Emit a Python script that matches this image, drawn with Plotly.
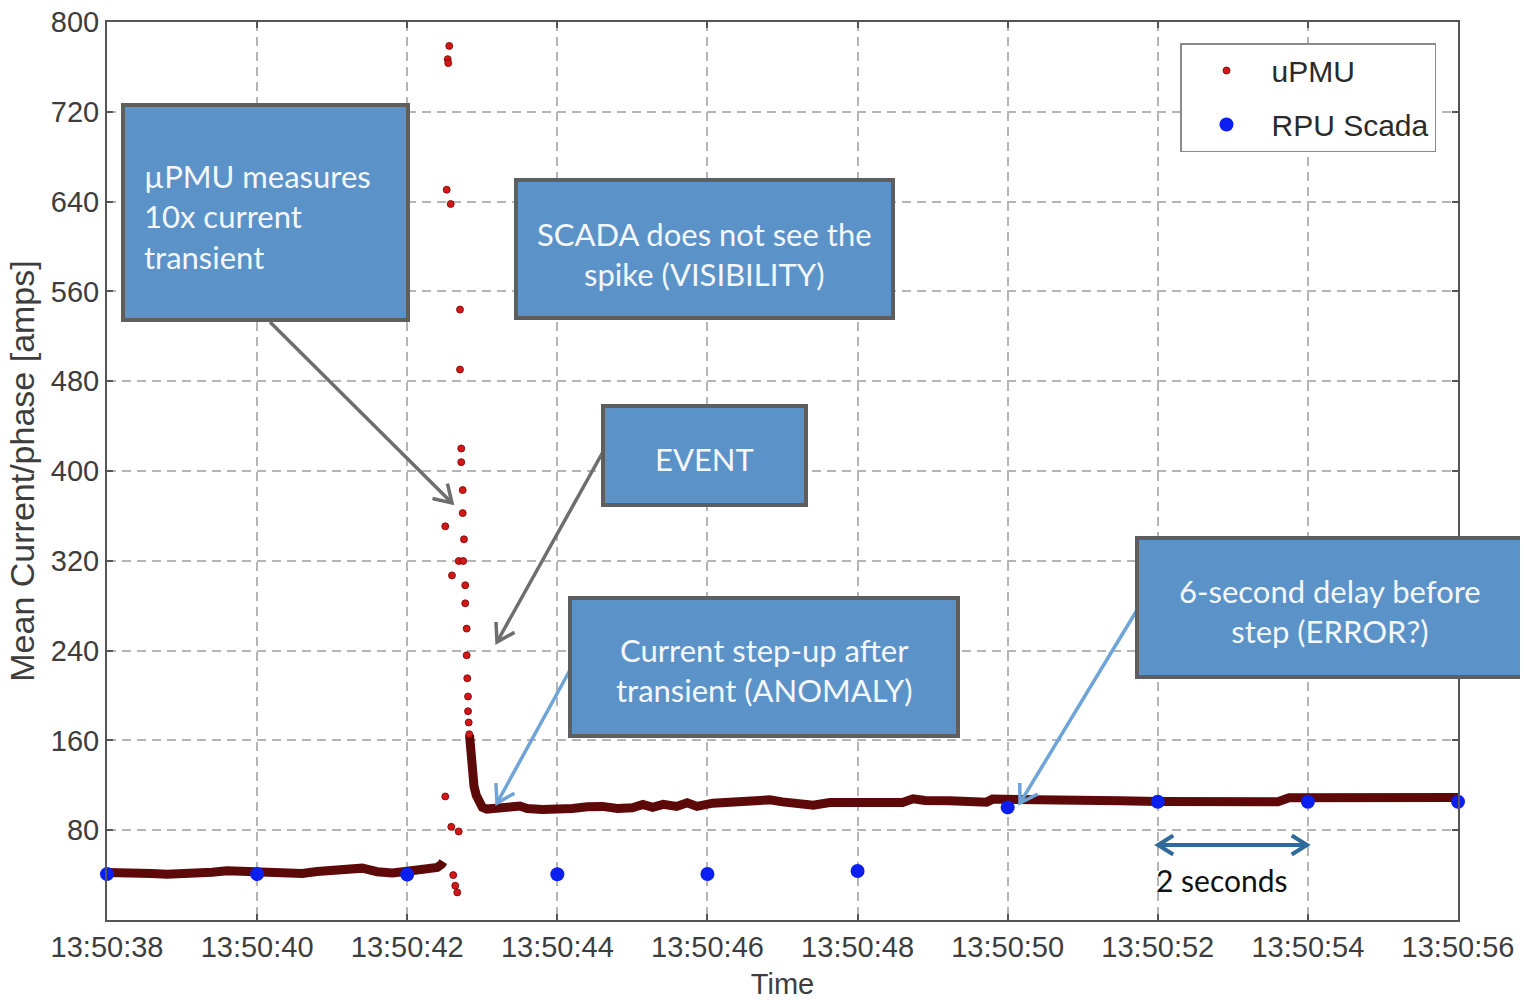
import math
import plotly.graph_objects as go

# ---------------- data (seconds after 13:50:00) ----------------
tick_vals = [38, 40, 42, 44, 46, 48, 50, 52, 54, 56]
tick_labels = ["13:50:38", "13:50:40", "13:50:42", "13:50:44", "13:50:46",
               "13:50:48", "13:50:50", "13:50:52", "13:50:54", "13:50:56"]
y_ticks = [80, 160, 240, 320, 400, 480, 560, 640, 720, 800]

# uPMU steady current before the event
pre_t = [38.0, 38.2, 38.4, 38.6, 38.8, 39.0, 39.2, 39.4, 39.6, 39.8, 40.0, 40.2,
         40.4, 40.6, 40.8, 41.0, 41.2, 41.4, 41.6, 41.8, 42.0, 42.2, 42.4, 42.46, 42.48]
pre_v = [42.4, 42.6, 42.2, 41.4, 40.7, 41.0, 41.5, 42.6, 43.9, 43.4, 43.0, 42.6,
         42.0, 41.5, 43.2, 44.8, 46.0, 46.2, 43.0, 41.8, 43.5, 45.6, 46.9, 49.8, 52.0]

# uPMU decay after the transient and new steady level
post_t = [42.83, 42.85, 42.87, 42.89, 42.92, 42.96, 43.0, 43.06, 43.2, 43.4, 43.5, 43.6,
          43.8, 44.0, 44.2, 44.4, 44.6, 44.8, 45.0, 45.14, 45.27, 45.41, 45.59, 45.73,
          45.86, 46.07, 46.3, 46.53, 46.7, 46.83, 47.0, 47.19, 47.41, 47.63, 48.0, 48.4,
          48.6, 48.74, 48.9, 49.23, 49.5, 49.72, 49.8, 50.2, 50.47, 50.6, 51.0, 51.5,
          52.0, 52.5, 53.0, 53.6, 53.75, 54.2, 54.8, 55.4, 56.0]
post_v = [165, 142, 128, 119, 111, 104, 100.5, 98.8, 99.0, 100.8, 101.5, 99.3,
          98.4, 98.0, 99.4, 100.8, 101.2, 99.4, 100.0, 103.0, 100.3, 103.0, 101.2, 104.5,
          101.2, 104.1, 104.4, 104.7, 105.5, 107.0, 105.2, 103.2, 102.3, 104.7, 104.7, 104.9,
          104.7, 108.0, 106.5, 106.2, 104.7, 105.0, 107.7, 107.7, 107.5, 106.1, 106.1, 106.2,
          105.5, 105.3, 105.5, 105.3, 108.8, 109.0, 109.2, 109.0, 109.2]

# individual uPMU samples during the transient
spike_t = [42.507, 42.507, 42.526, 42.539, 42.547, 42.560, 42.579, 42.587, 42.596, 42.613,
           42.640, 42.667, 42.686, 42.686, 42.703, 42.703, 42.720, 42.720, 42.739, 42.739,
           42.746, 42.756, 42.773, 42.773, 42.792, 42.792, 42.800, 42.810, 42.810, 42.819, 42.827]
spike_v = [350.7, 110.1, 650.6, 766.9, 763.4, 778.7, 637.9, 83.0, 307.0, 40.0,
           30.5, 24.6, 78.9, 319.8, 543.8, 490.4, 420.1, 407.9, 383.0, 362.5,
           319.8, 339.1, 298.2, 282.1, 259.6, 235.8, 215.4, 199.1, 186.0, 176.0, 165.5]

# RPU SCADA samples (every 2 s)
scada_t = [38, 40, 42, 44, 46, 48, 50, 52, 54, 56]
scada_v = [40.9, 40.9, 40.5, 40.7, 41.0, 43.6, 100.3, 105.3, 105.3, 105.3]

# ---------------- layout helpers (page pixel -> paper) ----------------
BODY = 0                      # page margin is removed by the post script
FW, FH = 1520, 1000           # figure size
PL, PR, PT, PB = 107, 1458, 22, 920   # plot area in page pixels


def fx(x):
    return (x - PL) / (PR - PL)


def fy(y):
    return (PB - y) / (PB - PT)


BAND = "#5e0909"
SPIKE = "#d01818"
BLUE = "#0a1ff0"
BOXFILL = "#5b93c9"
BOXLINE = "#5e5e5e"
TXTFONT = "Lato"
AXFONT = "Liberation Sans"

fig = go.Figure()

fig.add_trace(go.Scatter(x=pre_t, y=pre_v, mode="lines",
                         line=dict(color=BAND, width=9), showlegend=False,
                         hoverinfo="skip"))
fig.add_trace(go.Scatter(x=post_t, y=post_v, mode="lines",
                         line=dict(color=BAND, width=9), showlegend=False,
                         hoverinfo="skip"))
fig.add_trace(go.Scatter(x=spike_t, y=spike_v, mode="markers", name="uPMU",
                         legendgroup="a",
                         marker=dict(color=SPIKE, size=7,
                                     line=dict(color="#7a0000", width=0.8))))
fig.add_trace(go.Scatter(x=scada_t, y=scada_v, mode="markers", name="RPU Scada",
                         legendgroup="b", cliponaxis=False,
                         marker=dict(color=BLUE, size=14, line=dict(width=0))))

shapes = []
annotations = []


def box(x0, y0, x1, y1):
    shapes.append(dict(type="rect", xref="paper", yref="paper",
                       x0=fx(x0), x1=fx(x1), y0=fy(y1), y1=fy(y0),
                       fillcolor=BOXFILL, line=dict(color=BOXLINE, width=4),
                       layer="above"))


def text(x, y, s, anchor="center", size=31, color="#f4f7fb", align="center"):
    annotations.append(dict(x=fx(x), y=fy(y), xref="paper", yref="paper",
                            text=s, showarrow=False, xanchor=anchor, yanchor="middle",
                            align=align,
                            font=dict(family=TXTFONT, size=size, color=color)))


def arrow(x0, y0, x1, y1, color, width=3, head=20, both=False):
    shapes.append(dict(type="line", xref="paper", yref="paper",
                       x0=fx(x0), y0=fy(y0), x1=fx(x1), y1=fy(y1),
                       line=dict(color=color, width=width), layer="above"))
    ends = [(x0, y0, x1, y1)]
    if both:
        ends.append((x1, y1, x0, y0))
    for (ax0, ay0, ax1, ay1) in ends:
        dx, dy = ax1 - ax0, ay1 - ay0
        L = math.hypot(dx, dy)
        ux, uy = dx / L, dy / L
        pts = []
        for ang in (math.radians(32), -math.radians(32)):
            rx = ux * math.cos(ang) - uy * math.sin(ang)
            ry = ux * math.sin(ang) + uy * math.cos(ang)
            pts.append((ax1 - head * rx, ay1 - head * ry))
        path = "M {:.5f} {:.5f} L {:.5f} {:.5f} L {:.5f} {:.5f}".format(
            fx(pts[0][0]), fy(pts[0][1]), fx(ax1), fy(ay1), fx(pts[1][0]), fy(pts[1][1]))
        shapes.append(dict(type="path", xref="paper", yref="paper", path=path,
                           line=dict(color=color, width=width), layer="above"))


# arrows (drawn first so boxes sit on top of their tails)
arrow(270, 322, 452, 503, "#6e6e6e", 3.5)
arrow(604, 450, 497, 642, "#6e6e6e", 3.5)
arrow(570, 670, 497, 803, "#6ea4d8", 3.5)
arrow(1137, 610, 1020, 803, "#6ea4d8", 3.5)
arrow(1158, 845, 1307, 845, "#2f6a9b", 4, head=18, both=True)

# callout boxes
box(123, 105, 408, 320)
box(516, 180, 893, 318)
box(603, 406, 806, 505)
box(570, 598, 958, 736)
box(1137, 538, 1530, 677)

text(142, 216, "µPMU measures<br>10x current<br>transient", anchor="left", align="left")
text(704.5, 254, "SCADA does not see the<br>spike (VISIBILITY)")
text(704.5, 459, "EVENT")
text(764, 669.5, "Current step-up after<br>transient (ANOMALY)")
text(1330, 610.5, "6-second delay before<br>step (ERROR?)")
text(1222, 880, "2 seconds", color="#111111", size=30)

axis_common = dict(
    automargin=False, ticklabeloverflow="allow",
    showline=True, linecolor="#555555", linewidth=2, mirror="allticks",
    ticks="inside", ticklen=6, tickwidth=1.5, tickcolor="#555555",
    showgrid=True, gridcolor="#b5b5b5", gridwidth=1.5, griddash="9px,6px",
    zeroline=False,
    tickfont=dict(family=AXFONT, size=29, color="#3d3d3d"),
)

fig.update_layout(
    width=FW, height=FH,
    margin=dict(l=PL - BODY, r=FW + BODY - PR, t=PT - BODY, b=FH + BODY - PB,
                autoexpand=False),
    paper_bgcolor="white", plot_bgcolor="white",
    xaxis=dict(range=[38, 56], tickvals=tick_vals, ticktext=tick_labels,
               title=dict(text="Time", standoff=22,
                          font=dict(family=AXFONT, size=29, color="#3d3d3d")),
               **axis_common),
    yaxis=dict(range=[0, 800], tickvals=y_ticks,
               title=dict(text="Mean Current/phase [amps]", standoff=6,
                          font=dict(family=AXFONT, size=34, color="#3d3d3d")),
               **axis_common),
    legend=dict(x=fx(1180), y=fy(43), xanchor="left", yanchor="top",
                bgcolor="white", bordercolor="#8a8a8a", borderwidth=1.5,
                font=dict(family=AXFONT, size=30, color="#2a2a2a"),
                itemwidth=80, tracegroupgap=12, traceorder="grouped"),
    shapes=shapes,
    annotations=annotations,
)

fig.write_html("out.html",
               config={"displayModeBar": False},
               post_script="document.body.style.margin='0';"
                           "document.body.style.overflow='hidden';")
